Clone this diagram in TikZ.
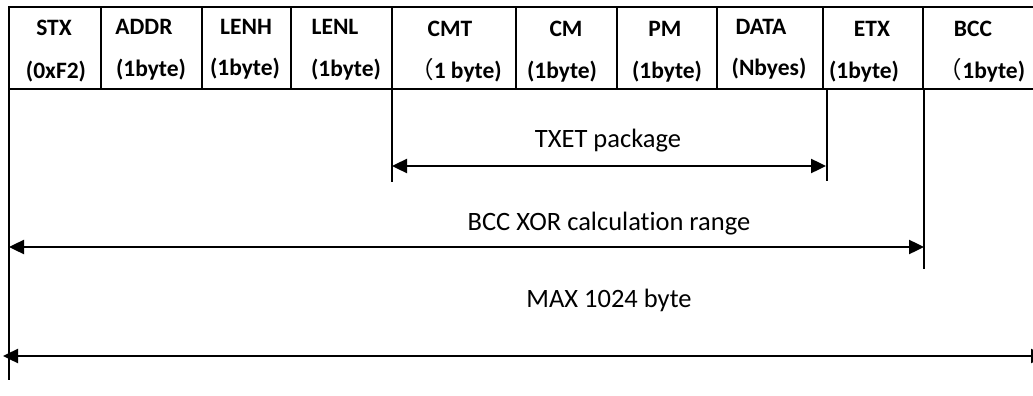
\documentclass[tikz,border=0pt]{standalone}
\usepackage{fontspec}
\setmainfont{Carlito}[Ligatures=CommonOff]
\newfontfamily\cjk{Noto Sans CJK SC}
\usetikzlibrary{arrows.meta}

\begin{document}
\begin{tikzpicture}[x=1pt,y=-1pt,
  frame/.style={line width=2.6pt},
  guide/.style={line width=2pt},
  dimline/.style={line width=2.4pt,
    {Triangle[length=15pt,width=14pt]}-{Triangle[length=15pt,width=14pt]}},
  field/.style={font=\bfseries\fontsize{23.5}{23.5}\selectfont, anchor=base, inner sep=0pt},
  rangelabel/.style={font=\fontsize{26.5}{26.5}\selectfont, anchor=base, inner sep=0pt}]
\useasboundingbox (0,0) rectangle (1033,396);

% frame of the field table
\draw[frame] (1046,7) -- (9,7) -- (9,89) -- (1046,89);
\foreach \x in {101,202,291,392,516,617,717,823,923}
  \draw[frame] (\x,7) -- (\x,89);

% field names and sizes
\node[field] (stx)  at (54,36)  {STX};
\node[field] (stxs) at (56,78)  {(0xF2)};
\node[field] (addr)  at (144,35) {ADDR};
\node[field] (addrs) at (151,77) {(1byte)};
\node[field] (lenh)  at (246,35) {LENH};
\node[field] (lenhs) at (245,76) {(1byte)};
\node[field] (lenl)  at (335,35) {LENL};
\node[field] (lenls) at (346,77) {(1byte)};
\node[field] (cmt)  at (450,37) {CMT};
\node[field] (cmts) at (456,78) {{\cjk\mdseries （}1 byte)};
\node[field] (cm)  at (566,37) {CM};
\node[field] (cms) at (562,78) {(1byte)};
\node[field] (pm)  at (665,37) {PM};
\node[field] (pms) at (667,78) {(1byte)};
\node[field] (data)  at (761,35) {DATA};
\node[field] (datas) at (769,76) {(Nbyes)};
\node[field] (etx)  at (872,37) {ETX};
\node[field] (etxs) at (864,78) {(1byte)};
\node[field] (bcc)  at (973,37) {BCC};
\node[field] (bccs) at (982,78) {{\cjk\mdseries （}1byte)};

% extension lines below the table
\coordinate (startTop) at (9,89);   \coordinate (startBot) at (9,380);
\coordinate (cmtTop)   at (392,89); \coordinate (cmtBot)   at (392,182);
\coordinate (etxTop)   at (827,89); \coordinate (etxBot)   at (827,181);
\coordinate (bccTop)   at (924,89); \coordinate (bccBot)   at (924,269);
\draw[guide] (startTop) -- (startBot);
\draw[guide] (cmtTop) -- (cmtBot);
\draw[guide] (etxTop) -- (etxBot);
\draw[guide] (bccTop) -- (bccBot);

% range dimensions
\coordinate (txetL) at (392,166); \coordinate (txetR) at (826,166);
\coordinate (xorL)  at (9,247);   \coordinate (xorR)  at (924,247);
\coordinate (maxL)  at (3,356);   \coordinate (maxR)  at (1046,356);
\draw[dimline] (txetL) -- (txetR);
\draw[dimline] (xorL) -- (xorR);
\draw[dimline] (maxL) -- (maxR);

\node[rangelabel] (txet) at (608,147) {TXET package};
\node[rangelabel] (xor)  at (609,230) {BCC XOR calculation range};
\node[rangelabel] (max)  at (609,307) {MAX 1024 byte};
\end{tikzpicture}
\end{document}
